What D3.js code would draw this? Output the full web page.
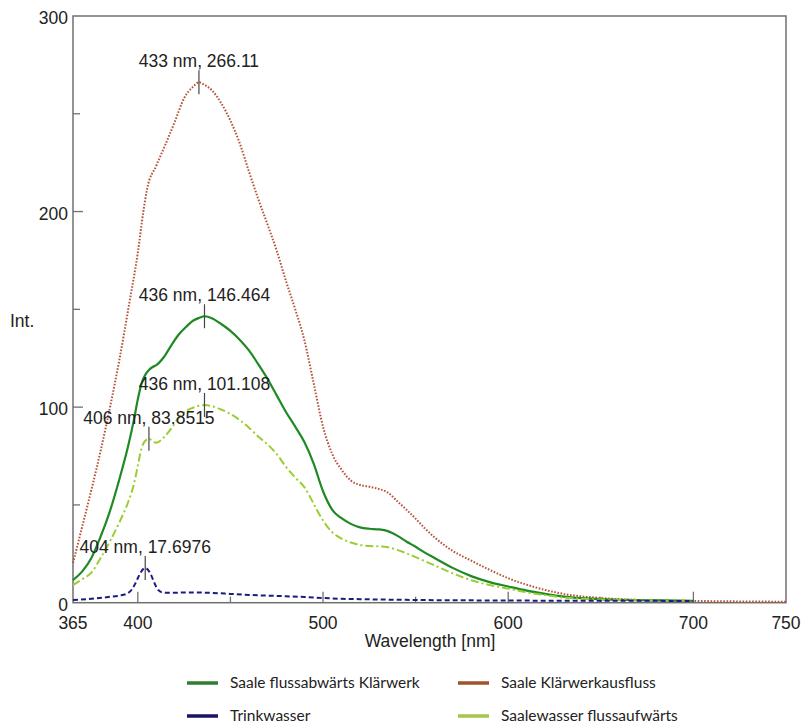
<!DOCTYPE html>
<html>
<head>
<meta charset="utf-8">
<script src="https://cdn.jsdelivr.net/npm/d3@7/dist/d3.min.js"></script>
<style>
  html, body { margin: 0; padding: 0; background: #fff; }
  svg { display: block; }
  .ax { font-family: Arial, "Liberation Sans", Helvetica, sans-serif; }
  .lg { font-family: Lato, "Open Sans", sans-serif; }
</style>
</head>
<body>
<svg id="chart" width="803" height="727"></svg>
<script>
// ---- Data ----
const seriesNames = ["Saale flussabwärts Klärwerk", "Saale Klärwerkausfluss", "Trinkwasser", "Saalewasser flussaufwärts"];

// shared wavelengths for the two Saale river samples
const wlRiver = [365,370,375,380,385,390,395,398,400,402,404,406,408,410,414,418,422,426,430,433,436,440,445,450,455,460,465,470,475,480,485,490,495,500,505,510,515,520,525,530,535,540,545,550,555,560,570,580,590,600,610,620,630,640,650,660,670,680,690,700];
const valDownstream = [11.6,16,23,34,47,63,81,94,104,112,116.5,119,120.5,121.5,125.5,131.5,137,141,144.3,145.6,146.464,145.5,142.5,139,134.5,129,122,114.5,106,97.5,90,82,71,57,47.5,43.2,40.3,38.5,37.8,37.5,36.6,34.3,31.3,28.6,25.6,23,17.8,13.6,10.5,8.3,6.2,4.5,3.1,2.3,1.8,1.5,1.3,1.2,1.1,1.0];
const valUpstream = [9,12,15.5,23,31.5,41,52,61,70,79,82.8,83.8515,82.5,81.8,84.5,89,94.5,98,99.8,100.7,101.108,100.5,98.8,96.5,93.4,89.5,85,81,76,69.5,64,59,50.5,42,36,32.8,30.8,29.5,29,28.8,28.4,27,25.3,23.3,21.2,19.2,15,11.5,9,7.2,5.3,3.9,2.6,2.0,1.6,1.4,1.2,1.1,1.0,1.0];

const wlOutflow = [365,370,375,380,385,390,395,400,403,405,410,415,420,425,430,433,436,440,445,450,455,460,465,470,475,480,485,490,495,500,505,510,515,520,525,530,535,540,545,550,555,560,570,580,590,600,610,620,630,640,650,660,670,680,690,700,720,750];
const valOutflow = [20.3,39,58,78,100,124,151,179,200,211.5,223.5,234.5,246,258,264,266.11,264.8,262,255.5,246.5,235,220.5,206.5,193.5,180,164.5,150,134,112,90,76,68,62.5,60.2,59.3,58.2,56.3,52,47.6,43,38,33.6,26.5,21.5,16.8,12.5,9.2,6.5,4.5,3.2,2.4,1.8,1.4,1.1,1.0,0.9,0.7,0.5];

const wlTap = [365,375,385,390,394,397,399,401,403,404,405,407,409,411,413,416,430,440,450,460,470,480,490,500,510,520,540,560,580,600,650,700];
const valTap = [1.4,2.0,3.0,3.6,4.6,7,10.5,14.5,17.3,17.6976,17.3,14.5,10,6.5,5.3,5.1,5.2,5.0,4.5,4.0,3.6,3.3,2.9,2.4,2.0,1.8,1.5,1.3,1.2,1.1,1.0,0.9];

// peak annotations
const peakNm  = [433, 436, 436, 406, 404];
const peakVal = [266.11, 146.464, 101.108, 83.8515, 17.6976];

// axis ticks
const xTickLabels = [365, 400, 500, 600, 700, 750];
const xMajorTicks = [400, 500, 600, 700];
const xMinorTicks = [450, 550, 650];
const yTickLabels = [0, 100, 200, 300];
const yMajorTicks = [100, 200];
const yMinorTicks = [50, 150, 250];

// ---- Layout ----
const svg = d3.select("#chart");
const L = 73, R = 786, T = 16, B = 602.7;
const x = d3.scaleLinear().domain([365, 750]).range([L, R]);
const y = d3.scaleLinear().domain([0, 300]).range([B, T]);

const axisColor = "#707070";
const fs = 17.5;

// frame
svg.append("rect")
  .attr("x", L).attr("y", T).attr("width", R - L).attr("height", B - T)
  .attr("fill", "none").attr("stroke", axisColor).attr("stroke-width", 1.5);

// ticks (inward)
const tg = svg.append("g").attr("stroke", axisColor).attr("stroke-width", 1.3);
xMajorTicks.forEach(v => tg.append("line").attr("x1", x(v)).attr("x2", x(v)).attr("y1", B).attr("y2", B - 11));
xMinorTicks.forEach(v => tg.append("line").attr("x1", x(v)).attr("x2", x(v)).attr("y1", B).attr("y2", B - 6));
yMajorTicks.forEach(v => tg.append("line").attr("x1", L).attr("x2", L + 10).attr("y1", y(v)).attr("y2", y(v)));
yMinorTicks.forEach(v => tg.append("line").attr("x1", L).attr("x2", L + 7).attr("y1", y(v)).attr("y2", y(v)));

// tick labels
svg.append("g").attr("class", "ax").selectAll("text").data(xTickLabels).join("text")
  .attr("x", d => x(d)).attr("y", 629)
  .attr("text-anchor", "middle")
  .attr("font-size", fs).attr("fill", "#222")
  .text(d => d);
svg.append("g").attr("class", "ax").selectAll("text").data(yTickLabels).join("text")
  .attr("x", 68).attr("y", d => y(d) + 8)
  .attr("text-anchor", "end")
  .attr("font-size", fs).attr("fill", "#222")
  .text(d => d);

// axis titles
svg.append("text").attr("class", "ax").attr("x", 430).attr("y", 647).attr("text-anchor", "middle")
  .attr("font-size", fs).attr("fill", "#222")
  .text("Wavelength [nm]");
svg.append("text").attr("class", "ax").attr("x", 10).attr("y", 327)
  .attr("font-size", fs).attr("fill", "#222")
  .text("Int.");

// ---- Lines ----
const line = d3.line().x(d => x(d[0])).y(d => y(d[1])).curve(d3.curveMonotoneX);
const zip = (a, b) => a.map((v, i) => [v, b[i]]);

const g = svg.append("g").attr("fill", "none").attr("stroke-linejoin", "round");
g.append("path").attr("d", line(zip(wlOutflow, valOutflow)))
  .attr("stroke", "#b4553a").attr("stroke-width", 2).attr("stroke-dasharray", "1.6,1.6");
g.append("path").attr("d", line(zip(wlRiver, valDownstream)))
  .attr("stroke", "#1f8a24").attr("stroke-width", 2.2);
g.append("path").attr("d", line(zip(wlRiver, valUpstream)))
  .attr("stroke", "#9acd32").attr("stroke-width", 2).attr("stroke-dasharray", "8,3,2,3");
g.append("path").attr("d", line(zip(wlTap, valTap)))
  .attr("stroke", "#1c1c80").attr("stroke-width", 2).attr("stroke-dasharray", "5,3");

// ---- Peak annotations ----
const ag = svg.append("g");
peakNm.forEach((nm, i) => {
  const px = x(nm), py = y(peakVal[i]);
  ag.append("line").attr("x1", px).attr("x2", px).attr("y1", py - 12).attr("y2", py + 12)
    .attr("stroke", "#444").attr("stroke-width", 1.2);
  ag.append("text").attr("class", "ax").attr("x", px).attr("y", py - 15).attr("text-anchor", "middle")
    .attr("font-size", fs).attr("fill", "#222")
    .text(nm + " nm, " + peakVal[i]);
});

// ---- Legend ----
const legendColors = ["#2e7d32", "#a0522d", "#1b1464", "#a4c64a"];
const legendX = [187, 458, 187, 458];
const legendY = [683, 683, 716, 716];
const lg = svg.append("g");
seriesNames.forEach((name, i) => {
  lg.append("line").attr("x1", legendX[i]).attr("x2", legendX[i] + 31)
    .attr("y1", legendY[i]).attr("y2", legendY[i])
    .attr("stroke", legendColors[i]).attr("stroke-width", 3.5);
  lg.append("text").attr("class", "lg").attr("x", legendX[i] + 43).attr("y", legendY[i] + 5)
    .attr("font-size", 15.5).attr("fill", "#222")
    .text(name);
});
</script>
</body>
</html>
